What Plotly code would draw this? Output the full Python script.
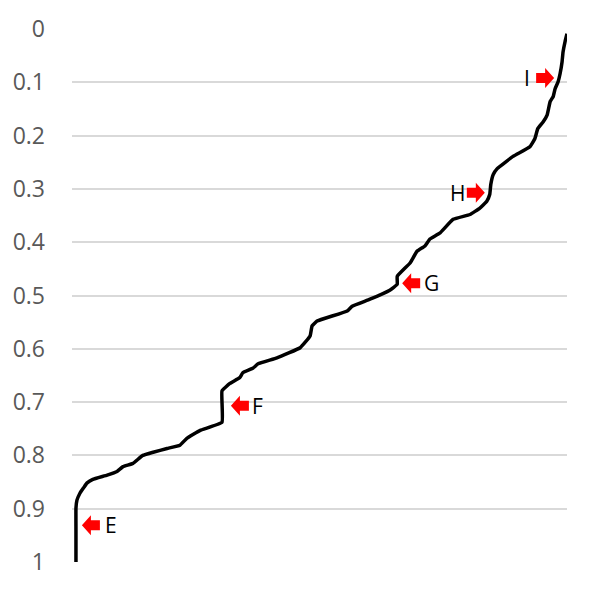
import plotly.graph_objects as go

# Curve data (x: fraction along horizontal axis, y: value on reversed axis)
curve_x = [0.008, 0.008, 0.008, 0.010, 0.016, 0.024, 0.030, 0.042, 0.071, 0.091,
           0.103, 0.123, 0.143, 0.164, 0.192, 0.218, 0.232, 0.259, 0.303, 0.303,
           0.319, 0.339, 0.345, 0.366, 0.376, 0.414, 0.461, 0.481, 0.485, 0.495,
           0.556, 0.566, 0.602, 0.642, 0.657, 0.657, 0.683, 0.697, 0.713, 0.723,
           0.743, 0.770, 0.804, 0.824, 0.838, 0.844, 0.846, 0.851, 0.859, 0.891,
           0.925, 0.935, 0.941, 0.952, 0.960, 0.966, 0.972, 0.976, 0.982, 0.986,
           0.990, 0.992, 0.996, 1.000]
curve_y = [1.000, 0.940, 0.899, 0.884, 0.871, 0.860, 0.852, 0.845, 0.837, 0.830,
           0.821, 0.815, 0.800, 0.794, 0.787, 0.781, 0.768, 0.753, 0.738, 0.679,
           0.665, 0.654, 0.645, 0.636, 0.628, 0.617, 0.598, 0.576, 0.557, 0.548,
           0.529, 0.520, 0.507, 0.490, 0.479, 0.464, 0.439, 0.417, 0.407, 0.394,
           0.383, 0.357, 0.348, 0.336, 0.323, 0.310, 0.292, 0.273, 0.262, 0.239,
           0.221, 0.206, 0.187, 0.174, 0.161, 0.136, 0.127, 0.112, 0.099, 0.084,
           0.062, 0.043, 0.024, 0.009]

# Markers
marker_labels = ["E", "F", "G", "H", "I"]
marker_y = [0.931, 0.707, 0.477, 0.307, 0.092]
arrow_tip_x = [0.020, 0.321, 0.667, 0.834, 0.974]
arrow_dir = ["left", "left", "left", "right", "right"]
label_x = [0.079, 0.374, 0.727, 0.778, 0.919]

y_ticks = [0, 0.1, 0.2, 0.3, 0.4, 0.5, 0.6, 0.7, 0.8, 0.9, 1]
y_ticktext = ["0", "0.1", "0.2", "0.3", "0.4", "0.5", "0.6", "0.7", "0.8", "0.9", "1"]

fig = go.Figure()
fig.add_trace(go.Scatter(x=curve_x, y=curve_y, mode="lines",
                         line=dict(color="black", width=3.5, shape="spline", smoothing=0.3),
                         hoverinfo="skip", showlegend=False))

LEFT_ARROW = "M0,0 L9,10 L9,5 L18,5 L18,-5 L9,-5 L9,-10 Z"
RIGHT_ARROW = "M0,0 L-9,10 L-9,5 L-18,5 L-18,-5 L-9,-5 L-9,-10 Z"

shapes = []
annotations = []
for lab, y, tx, d, lx in zip(marker_labels, marker_y, arrow_tip_x, arrow_dir, label_x):
    shapes.append(dict(type="path", xref="x", yref="y", xsizemode="pixel", ysizemode="pixel",
                       xanchor=tx, yanchor=y,
                       path=LEFT_ARROW if d == "left" else RIGHT_ARROW,
                       fillcolor="#ff0000", line=dict(width=0)))
    annotations.append(dict(x=lx, y=y, xref="x", yref="y", text=lab, showarrow=False,
                            font=dict(family="Open Sans", size=21, color="black"),
                            xanchor="center", yanchor="middle"))

fig.update_layout(
    width=591, height=591,
    margin=dict(l=72, r=24, t=27, b=29),
    paper_bgcolor="white", plot_bgcolor="white",
    showlegend=False,
    shapes=shapes,
    annotations=annotations,
    xaxis=dict(range=[0, 1], showticklabels=False, tickvals=[1], showgrid=True,
               gridcolor="#d9d9d9", gridwidth=1.5, zeroline=False, showline=False, ticks=""),
    yaxis=dict(range=[1, 0], tickvals=y_ticks, ticktext=y_ticktext, showgrid=True,
               gridcolor="#d9d9d9", gridwidth=1.5, zeroline=False, showline=False,
               ticks="", ticklabelstandoff=26,
               tickfont=dict(family="Open Sans", size=23, color="#595959")),
)

fig.write_html("out.html")
